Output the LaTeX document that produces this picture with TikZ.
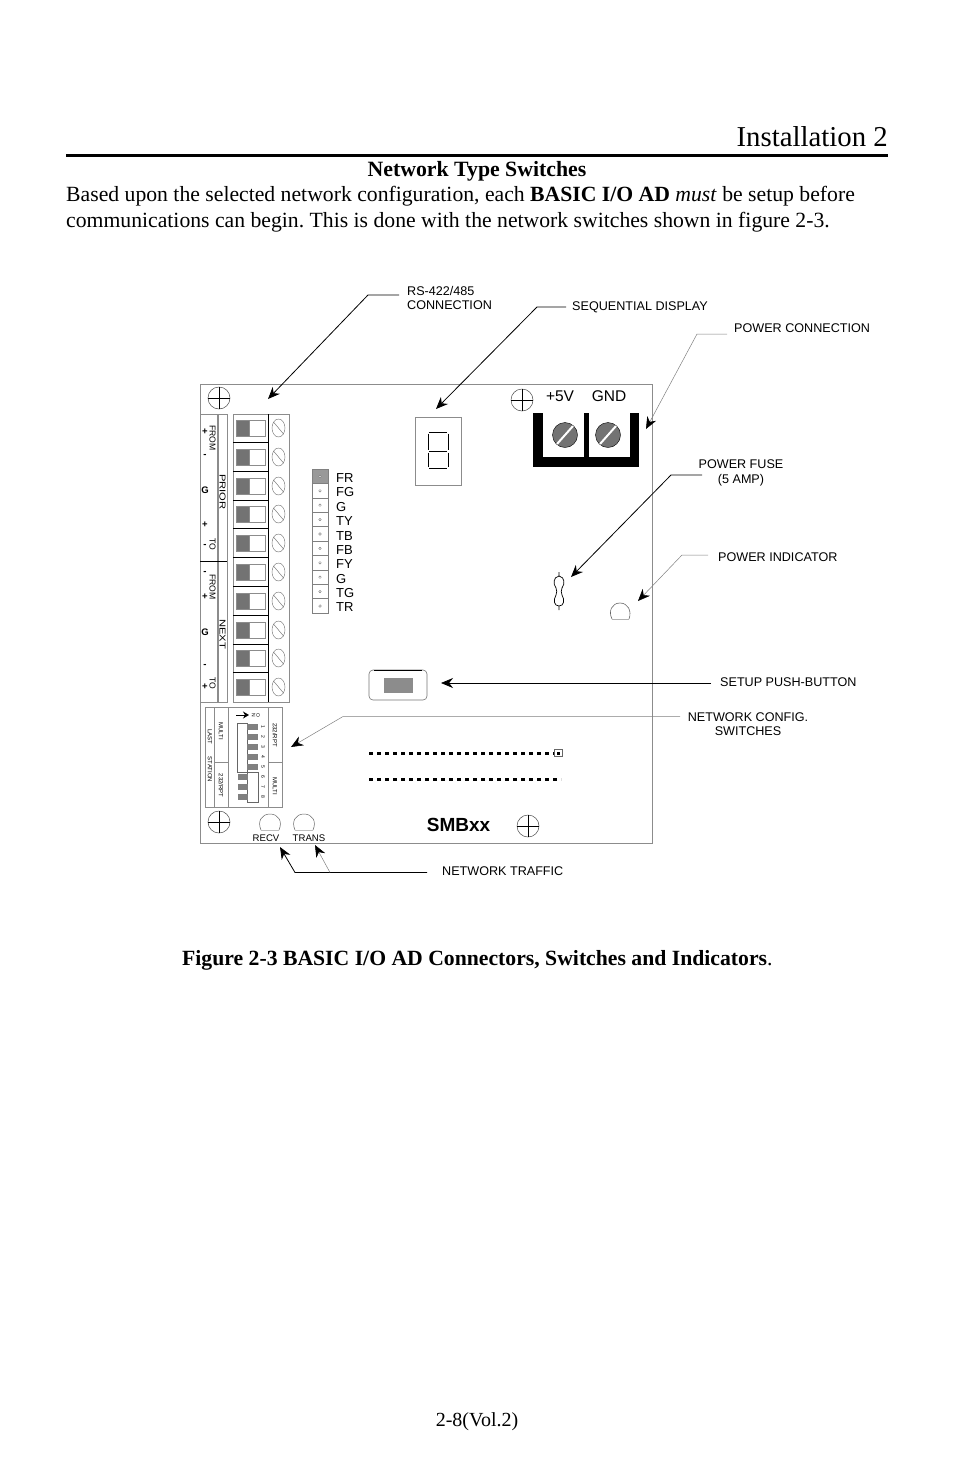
\documentclass[tikz,border=0pt]{standalone}
\usepackage{fontspec}
\setmainfont{Liberation Serif}
\setsansfont{Liberation Sans}
\usetikzlibrary{arrows.meta}
\tikzset{
	page text/.style={anchor=base west,inner sep=0pt,font=\fontsize{21.7}{25}\selectfont},
	call text/.style={inner sep=0pt,align=center,font=\sffamily\fontsize{12.6}{14.6}\selectfont},
	strip text/.style={inner sep=0pt,rotate=-90,font=\sffamily\fontsize{8.6}{10}\selectfont},
	tiny text/.style={inner sep=0pt,rotate=-90,font=\sffamily\fontsize{6}{7}\selectfont},
	num text/.style={inner sep=0pt,rotate=-90,font=\sffamily\fontsize{5}{6}\selectfont},
	pin text/.style={anchor=west,inner sep=0pt,font=\sffamily\fontsize{13}{14}\selectfont},
	board line/.style={draw=black!45,line width=.7pt},
	call line/.style={-{Stealth[length=12pt,width=10pt,color=black]},line width=.8pt},
	pale line/.style={call line,draw=black!50,line width=.5pt},
}
\begin{document}
\frenchspacing
\begin{tikzpicture}[x=1pt,y=-1pt]
	\useasboundingbox (0,0) rectangle (954,1475);
	\node[anchor=base east,inner sep=0pt,font=\fontsize{28.8}{33}\selectfont] (title) at (888,146) {Installation 2};
	\draw[line width=3pt] (66,155) -- (888,155);
	\node[anchor=base,inner sep=0pt,font=\bfseries\fontsize{21.8}{25}\selectfont] (heading) at (477,176) {Network Type Switches};
	\node[page text] (bodyA) at (66,201) {Based upon the selected network configuration, each \textbf{BASIC I/O AD} \textit{must} be setup before};
	\node[page text] (bodyB) at (66,227) {communications can begin. This is done with the network switches shown in figure 2-3.};
	\node[page text] (caption) at (182,965) {\textbf{Figure 2-3 BASIC I/O AD Connectors, Switches and Indicators}.};
	\node[anchor=base,inner sep=0pt,font=\fontsize{20}{24}\selectfont] (footer) at (477,1426) {2-8(Vol.2)};

	\draw[board line] (200,384) rectangle (652,843);

	\foreach \x/\y in {219/398,522/400,219/822,528/826}{
		\draw[black!70,line width=.5pt] (\x,\y) circle (11);
		\draw[line width=.6pt] (\x-11,\y) -- (\x+11,\y) (\x,\y-11) -- (\x,\y+11);
	}

	\draw[board line] (200,414) rectangle (217,702);
	\draw[board line] (218,414) rectangle (227,702);
	\draw[line width=.6pt] (200,561) -- (227,561);
	\draw[board line] (233,414) rectangle (289,702);
	\draw[line width=.7pt] (268,414) -- (268,702);
	\foreach \y [count=\i] in {428,457,486,514,543,572,601,630,658,687}{
		\draw[black!45,fill=white,line width=.6pt] (249,\y-8) rectangle (265,\y+8);
		\draw[black!45,fill=black!55,line width=.6pt] (236,\y-8) rectangle (249,\y+8);
		\draw[black!60,line width=.4pt] (278.5,\y) ellipse (6.5 and 9);
		\draw[black!60,line width=.4pt] (273.5,\y-6) -- (283.5,\y+6);
		\ifnum\i<10 \draw[line width=.7pt] (233,\y+14.4) -- (268,\y+14.4); \fi
	}

	\node[strip text] (fromA) at (212.5,438) {FROM};
	\node[strip text] (toA) at (212.5,544) {TO};
	\node[strip text] (fromB) at (212.5,587) {FROM};
	\node[strip text] (toB) at (212.5,683) {TO};
	\node[strip text,xscale=1.3] (prior) at (222.5,492) {PRIOR};
	\node[strip text,xscale=1.3] (next) at (222.5,634) {NEXT};
	\foreach \y/\t [count=\i] in {432/+,456/-,490/G,525/+,546/-,573/-,597/+,632/G,666/-,687/+}{
		\node[inner sep=0pt,font=\sffamily\bfseries\fontsize{9.5}{10}\selectfont] (sign\i) at (205,\y) {\t};
	}

	\foreach \y/\t [count=\i] in {478/FR,492/FG,507/G,521/TY,536/TB,550/FB,564/FY,579/G,593/TG,607/TR}{
		\pgfmathsetmacro{\celltop}{469+14.4*(\i-1)}
		\ifnum\i=1
			\draw[black!50,fill=black!40,line width=.5pt] (312,\celltop) rectangle (328,\celltop+14.4);
		\else
			\draw[black!50,line width=.5pt] (312,\celltop) rectangle (328,\celltop+14.4);
		\fi
		\draw[black!60,fill=white,line width=.3pt] (320,\celltop+7.4) circle (1.3);
		\node[pin text] (pin\i) at (336,\y) {\t};
	}

	\draw[board line] (415,417) rectangle (461,485);
	\draw[line width=1pt] (429,432) -- (447,432) (429,451) -- (447,451) (429,468) -- (447,468);
	\draw[line width=1pt] (428,433.5) -- (428,449.5) (448,433.5) -- (448,449.5) (428,452.5) -- (428,466.5) (448,452.5) -- (448,466.5);

	\fill (533,413) rectangle (639,467);
	\foreach \x/\c in {543/565,589/608}{
		\fill[white] (\x,413) rectangle (\x+41,457);
		\draw[fill=black!55,line width=.4pt] (\c,435) circle (12.5);
		\draw[white,line width=2pt] (\c-8,444) -- (\c+8,426);
	}
	\node[inner sep=0pt,font=\sffamily\fontsize{15.5}{17}\selectfont] (plus) at (560,396) {+5V};
	\node[inner sep=0pt,font=\sffamily\fontsize{15.5}{17}\selectfont] (gnd) at (609,396) {GND};

	\draw[line width=.7pt] (559,572) -- (559,576) .. controls (553,577) and (553,584) .. (556,588) .. controls (557,590) and (557,593) .. (556,595) .. controls (553,600) and (554,606) .. (559,606) .. controls (564,606) and (565,600) .. (562,595) .. controls (561,593) and (561,590) .. (562,588) .. controls (565,584) and (565,577) .. (559,576) (559,606) -- (559,610);

	\draw[black!60,line width=.6pt] (612,619) .. controls (608,611) and (612,603) .. (620,603) .. controls (628,603) and (632,611) .. (629,619);
	\draw[black!30,line width=.6pt] (612,619) -- (629,619);

	\draw[black!55,line width=.6pt,rounded corners=4pt] (369,670) rectangle (427,700);
	\draw[line width=.7pt] (374,670) -- (422,670);
	\fill[black!45] (384,678) rectangle (413,693);

	\draw[line width=3pt,dash pattern=on 4pt off 4pt] (369,753) -- (555,753);
	\draw[line width=3pt,dash pattern=on 4pt off 4pt] (369,779) -- (561,779);
	\draw[black!60,fill=white,line width=.6pt] (554.5,749.5) rectangle (562.5,756.5);
	\fill (557,752) rectangle (560,754.5);

	\draw[board line] (205,707) rectangle (282,807);
	\draw[board line] (214,707) -- (214,807) (228,707) -- (228,807) (268,707) -- (268,807);
	\draw[board line] (214,762) -- (228,762) (268,762) -- (282,762);
	\draw[black!60,line width=.5pt] (237,723) rectangle (247,772);
	\draw[black!60,line width=.5pt] (247,772) rectangle (258,802);
	\foreach \y [count=\i] in {727,737,747,757,767}{
		\fill[black!50] (247,\y-2.7) rectangle (258,\y+2.7);
		\node[num text] (num\i) at (263,\y) {\i};
	}
	\foreach \y [count=\i from 6] in {777,787,797}{
		\fill[black!50] (238,\y-2.7) rectangle (248,\y+2.7);
		\node[num text] (num\i) at (263,\y) {\i};
	}
	\coordinate (onStart) at (236,715);
	\coordinate (onTip) at (249,715);
	\draw[-{Stealth[length=6pt,width=7pt]},line width=1pt] (onStart) -- (onTip);
	\node[num text] (letterN) at (253.5,715) {N};
	\node[num text] (letterO) at (258,715) {O};
	\node[tiny text] (last) at (210,737) {LAST};
	\node[tiny text] (station) at (210,769.5) {STATION};
	\node[tiny text] (multiA) at (221,731) {MULTI};
	\node[tiny text] (rpt232A) at (221,785.5) {232/RPT};
	\node[tiny text] (rpt232B) at (275,735) {232/RPT};
	\node[tiny text] (multiB) at (275,786) {MULTI};

	\foreach \x in {270,304}{
		\draw[black!60,line width=.5pt] (\x-9,830) .. controls (\x-13,821) and (\x-8,814) .. (\x,814) .. controls (\x+8,814) and (\x+13,821) .. (\x+9,830);
		\draw[black!25,line width=.5pt] (\x-9,830) -- (\x+9,830);
	}
	\node[inner sep=0pt,font=\sffamily\fontsize{9.6}{12}\selectfont] (recv) at (266,838) {RECV};
	\node[inner sep=0pt,font=\sffamily\fontsize{9.6}{12}\selectfont] (trans) at (309,838) {TRANS};
	\node[inner sep=0pt,font=\sffamily\bfseries\fontsize{19}{21}\selectfont] (board) at (458.5,825) {SMBxx};

	\node[call text,align=left,anchor=west] (rsLabel) at (407,298) {RS-422/485\\CONNECTION};
	\node[call text,anchor=west] (seqLabel) at (572,307) {SEQUENTIAL DISPLAY};
	\node[call text,anchor=west] (connLabel) at (734,328) {POWER CONNECTION};
	\node[call text] (fuseLabel) at (741,473) {POWER FUSE\\(5 AMP)};
	\node[call text,anchor=west] (indLabel) at (718,557) {POWER INDICATOR};
	\node[call text,anchor=west] (setupLabel) at (720,682) {SETUP PUSH-BUTTON};
	\node[call text] (netLabel) at (748,724) {NETWORK CONFIG.\\SWITCHES};
	\node[call text,anchor=west] (trafficLabel) at (442,871) {NETWORK TRAFFIC};

	\coordinate (rsStart) at (399,295);
	\coordinate (rsBend) at (368,295);
	\coordinate (rsTip) at (268,399);
	\draw[call line] (rsStart) -- (rsBend) -- (rsTip);
	\coordinate (seqStart) at (566,307);
	\coordinate (seqBend) at (537,307);
	\coordinate (seqTip) at (436,409);
	\draw[call line] (seqStart) -- (seqBend) -- (seqTip);
	\coordinate (connStart) at (727,334);
	\coordinate (connBend) at (697,334);
	\coordinate (connTip) at (646,429);
	\draw[pale line] (connStart) -- (connBend) -- (connTip);
	\coordinate (fuseStart) at (702,475);
	\coordinate (fuseBend) at (671,475);
	\coordinate (fuseTip) at (571,577);
	\draw[call line] (fuseStart) -- (fuseBend) -- (fuseTip);
	\coordinate (indStart) at (708,555);
	\coordinate (indBend) at (682,555);
	\coordinate (indTip) at (638,601);
	\draw[pale line] (indStart) -- (indBend) -- (indTip);
	\coordinate (setupStart) at (711,683);
	\coordinate (setupTip) at (441,683);
	\draw[call line] (setupStart) -- (setupTip);
	\coordinate (netStart) at (680,716.5);
	\coordinate (netBend) at (343,716.5);
	\coordinate (netTip) at (291,747);
	\draw[pale line] (netStart) -- (netBend) -- (netTip);
	\coordinate (trafficStart) at (427,872.5);
	\coordinate (trafficBend) at (295,872.5);
	\coordinate (trafficTip) at (280,847);
	\coordinate (transBend) at (330,872.5);
	\coordinate (transTip) at (315,845);
	\draw[call line] (trafficStart) -- (trafficBend) -- (trafficTip);
	\draw[pale line] (transBend) -- (transTip);
\end{tikzpicture}
\end{document}
